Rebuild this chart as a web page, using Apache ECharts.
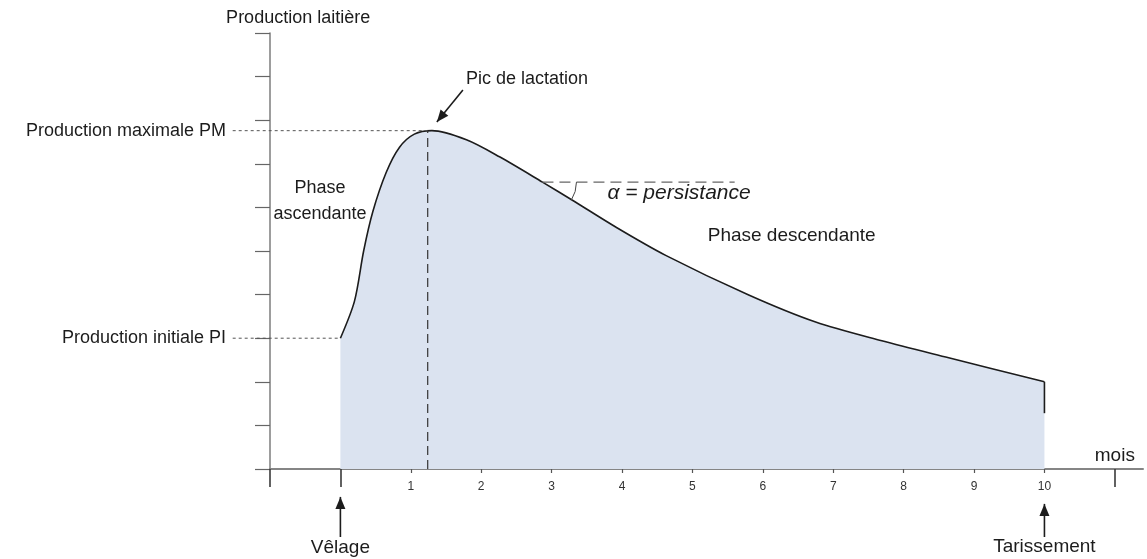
<!DOCTYPE html>
<html lang="fr">
<head>
<meta charset="UTF-8">
<title>Courbe de lactation</title>
<style>
  html, body { margin: 0; padding: 0; background: #fff; }
  #chart { width: 1147px; height: 559px; }
</style>
</head>
<body>
<div id="chart"></div>
<script src="https://cdn.jsdelivr.net/npm/echarts@6/dist/echarts.min.js"></script>
<script>
  // courbe : mois depuis le vêlage -> production (unités de graduation)
  const curveMonths = [0, 0.2, 0.33, 0.46, 0.65, 0.84, 1.05, 1.3, 1.79, 2.26, 2.87, 3.29, 3.91, 4.62, 5.8, 6.75, 7.69, 8.64, 10];
  const curveValues = [3.0, 3.85, 5.0, 5.9, 6.8, 7.38, 7.68, 7.76, 7.55, 7.16, 6.58, 6.17, 5.55, 4.9, 3.99, 3.37, 2.94, 2.55, 2.0];
  const dropEnd = [10, 1.28];          // petit trait vertical au tarissement
  const monthTicks = [1, 2, 3, 4, 5, 6, 7, 8, 9, 10];
  const longTicks = [-1, 0, 11];
  const peakMonth = 1.24;              // tiret vertical du pic
  const tangent = [2.87, 6.58];        // point où part la ligne de persistance
  const tangentEnd = 5.6;
  const guideStart = -1.53;            // début des pointillés PI / PM

  const PI = curveValues[0];
  const PM = Math.max(...curveValues);

  const noteTexts = ['Production laitière', 'Pic de lactation', 'Phase\nascendante', 'α = persistance', 'Phase descendante', 'Vêlage', 'Tarissement', 'mois'];
  const notePos = [[-0.6, 10.35], [2.65, 8.94], [-0.29, 6.15], [4.81, 6.33], [6.41, 5.34], [0, -1.8], [10, -1.79], [11, 0.3]];

  // flèches : [x départ, y départ, x pointe, y pointe]
  const arrows = [[1.74, 8.69, 1.37, 7.96], [0, -1.56, 0, -0.64], [10, -1.56, 10, -0.8]];

  const FONT = 'Liberation Sans, Arial, sans-serif';
  const INK = '#1c1c1c';
  const AXIS = '#858585';

  const chart = echarts.init(document.getElementById('chart'));

  const xBase = { type: 'value', min: -1, max: 11.4, position: 'bottom', splitLine: { show: false } };

  // segments en coordonnées de données, dessinés hors grille si besoin
  function segments(data, style, arrow) {
    return {
      type: 'custom',
      clip: false,
      silent: true,
      data: data,
      renderItem: (params, api) => {
        const a = api.coord([api.value(0), api.value(1)]);
        const b = api.coord([api.value(2), api.value(3)]);
        const children = [{
          type: 'line',
          shape: { x1: a[0], y1: a[1], x2: b[0], y2: b[1] },
          style: Object.assign({ fill: null }, style)
        }];
        if (arrow) {
          const ang = Math.atan2(b[1] - a[1], b[0] - a[0]);
          const L = 12, W = 5;
          const bx = b[0] - L * Math.cos(ang), by = b[1] - L * Math.sin(ang);
          children.push({
            type: 'polygon',
            shape: { points: [b, [bx + W * Math.sin(ang), by - W * Math.cos(ang)], [bx - W * Math.sin(ang), by + W * Math.cos(ang)]] },
            style: { fill: style.stroke }
          });
        }
        return { type: 'group', children: children };
      },
      z: 4
    };
  }

  chart.setOption({
    animation: false,
    grid: { left: 270, right: 4, top: 33, bottom: 90 },
    xAxis: [
      Object.assign({}, xBase, {
        axisLine: { lineStyle: { color: AXIS, width: 2 } },
        axisTick: { customValues: monthTicks, length: 4, lineStyle: { color: '#555', width: 1.2 } },
        axisLabel: { customValues: monthTicks, margin: 12, color: '#333', fontSize: 12, fontFamily: FONT }
      }),
      Object.assign({}, xBase, {
        axisLine: { show: false },
        axisTick: { customValues: longTicks, length: 18, lineStyle: { color: '#3a3a3a', width: 1.6 } },
        axisLabel: { show: false }
      })
    ],
    yAxis: {
      type: 'value', min: 0, max: 10, interval: 1,
      splitLine: { show: false },
      axisLine: { show: true, onZero: false, lineStyle: { color: AXIS, width: 1.6 } },
      axisTick: { show: true, length: 15, lineStyle: { color: '#666', width: 1.2 } },
      axisLabel: {
        customValues: [PI, PM],
        margin: 44,
        color: INK, fontSize: 18, fontFamily: FONT,
        formatter: v => v === PM ? 'Production maximale PM' : 'Production initiale PI'
      }
    },
    series: [
      {
        type: 'line',
        data: curveMonths.map((m, i) => [m, curveValues[i]]),
        smooth: 0.3,
        symbol: 'none',
        lineStyle: { color: INK, width: 1.6 },
        areaStyle: { color: '#dbe3f0', opacity: 1 },
        z: 2
      },
      segments([[10, curveValues[curveValues.length - 1], dropEnd[0], dropEnd[1]]], { stroke: INK, lineWidth: 1.6 }),
      segments([[guideStart, PM, peakMonth, PM], [guideStart, PI, 0, PI]], { stroke: '#555', lineWidth: 1, lineDash: [3, 3] }),
      segments([[peakMonth, 0, peakMonth, PM]], { stroke: '#333', lineWidth: 1.2, lineDash: [9, 5] }),
      segments([[tangent[0], tangent[1], tangentEnd, tangent[1]]], { stroke: '#666', lineWidth: 1.1, lineDash: [11, 6] }),
      segments(arrows, { stroke: INK, lineWidth: 1.6 }, true),
      {
        // arc de l'angle de persistance
        type: 'custom',
        silent: true,
        data: [tangent],
        renderItem: (params, api) => {
          const c = api.coord([api.value(0), api.value(1)]);
          return {
            type: 'arc',
            shape: { cx: c[0], cy: c[1], r: 34, startAngle: 0, endAngle: 0.56, clockwise: true },
            style: { stroke: '#444', fill: null, lineWidth: 1 }
          };
        },
        z: 4
      },
      {
        type: 'scatter',
        clip: false,
        silent: true,
        symbolSize: 0,
        itemStyle: { opacity: 1 },
        data: noteTexts.map((t, i) => {
          const item = { name: t, value: notePos[i] };
          if (t === 'α = persistance') item.label = { fontStyle: 'italic', fontSize: 21 };
          if (t === 'Phase descendante' || t === 'Vêlage' || t === 'Tarissement') item.label = { fontSize: 19 };
          if (t === 'mois') item.label = { fontSize: 19 };
          return item;
        }),
        label: {
          show: true,
          position: 'inside',
          formatter: p => p.name,
          color: INK,
          fontFamily: FONT,
          fontSize: 18,
          lineHeight: 26
        },
        labelLayout: { hideOverlap: false },
        emphasis: { disabled: true },
        z: 5
      }
    ]
  });
</script>
</body>
</html>
